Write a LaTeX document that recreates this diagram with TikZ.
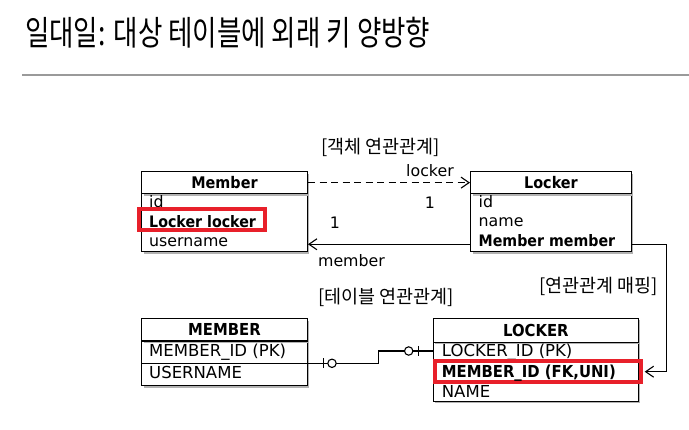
\documentclass[tikz,border=0pt]{standalone}
\usepackage{fontspec}
\setmainfont{DejaVu Sans}
\newfontfamily\bc[FakeStretch=0.9]{DejaVu Sans}
\newfontfamily\kr{Noto Sans CJK KR}
\usetikzlibrary{arrows.meta,calc}
\definecolor{hl}{HTML}{E8202A}
\definecolor{rulegray}{HTML}{9A9A9A}
\begin{document}
\begin{tikzpicture}[x=1pt,y=-1pt,
  box/.style={draw=black, line width=1.3pt, fill=white, inner sep=0pt, anchor=north west,
    preaction={fill=black!30, transform canvas={shift={(2pt,-2pt)}}}},
  hdr/.style={font=\fontsize{16}{19}\selectfont\bc\bfseries},
  erhdr/.style={font=\fontsize{16.5}{19}\selectfont\bc\bfseries},
  fld/.style={font=\fontsize{15.8}{19}\selectfont, inner sep=0pt, anchor=base west},
  erfld/.style={font=\fontsize{16.5}{19}\selectfont, inner sep=0pt, anchor=base west},
  lbl/.style={font=\fontsize{15.8}{19}\selectfont, inner sep=0pt, anchor=base},
  krl/.style={font=\kr\fontsize{18.5}{21}\selectfont, inner sep=0pt},
  hlbox/.style={draw=hl, line width=4pt, inner sep=0pt, anchor=center},
  conn/.style={line width=1.1pt},
  tip/.style={-{Straight Barb[length=8pt,width=11pt]}}
]
\useasboundingbox (0,0) rectangle (689,430);

% title
\node[anchor=west, inner sep=0pt, font=\kr\fontsize{34}{38}\selectfont] (title) at (25,33)
  {\scalebox{0.78}[1]{일대일: 대상 테이블에 외래 키 양방향}};
\draw[rulegray, line width=1.2pt] (22,75) -- (689,75);

% ---------- object model ----------
\node[box, minimum width=165.7pt, minimum height=58pt] (memb) at (141,193) {};
\node[box, hdr, minimum width=165.7pt, minimum height=22pt] (memh) at (141,171) {Member};
\node[fld] (mid) at (149,208) {id};
\node[hlbox, minimum width=126pt, minimum height=20.5pt] (hl1) at (202.3,219.5) {};
\node[fld] (mll) at (149,227.5) {\bc\bfseries Locker locker};
\node[fld] (mun) at (149,247) {username};

\node[box, minimum width=160.7pt, minimum height=58pt] (lockb) at (470,193) {};
\node[box, hdr, minimum width=160.7pt, minimum height=22pt] (lockh) at (470,171) {Locker};
\node[fld] (lid) at (478.5,208) {id};
\node[fld] (lname) at (478.5,227) {name};
\node[fld] (lmm) at (478.5,247) {\bc\bfseries Member member};

\node[krl] (lab1) at (380.5,147.5) {[객체 연관관계]};
\draw[conn, tip, dash pattern=on 7pt off 4.5pt] (memh.east) -- (lockh.west);
\node[lbl] (locklbl) at (430,177) {locker};
\node[lbl] (one1) at (430,209) {1};
\draw[conn, tip] (lockb.west |- lmm.mid) -- (memb.east |- lmm.mid);
\node[lbl] (one2) at (335,229) {1};
\node[lbl] (memlbl) at (351.5,267) {member};

% ---------- table model ----------
\node[krl] (lab2) at (386,297.5) {[테이블 연관관계]};
\node[krl] (lab3) at (598.5,286) {[연관관계 매핑]};

\node[box, minimum width=165.7pt, minimum height=22.4pt] (mr1) at (141,340.3) {};
\node[box, minimum width=165.7pt, minimum height=22.3pt] (mr2) at (141,362.7) {};
\node[box, erhdr, minimum width=165.7pt, minimum height=22.3pt] (mh) at (141,318) {MEMBER};
\node[erfld] (mpk) at (149,357) {MEMBER\_ID (PK)};
\node[erfld] (mus) at (149,379) {USERNAME};

\node[box, minimum width=205pt, minimum height=59pt] (lb) at (432.7,341.7) {};
\node[box, erhdr, minimum width=205pt, minimum height=24pt] (lh) at (432.7,317.7) {LOCKER};
\node[erfld] (lpk) at (441.7,357) {LOCKER\_ID (PK)};
\node[hlbox, minimum width=206pt, minimum height=21.3pt] (hl2) at (537.7,371.7) {};
\node[erfld] (lfk) at (441.7,378) {\bc\bfseries MEMBER\_ID (FK,UNI)};
\node[erfld] (lnm) at (441.7,398) {NAME};

% mapping connector
\coordinate (bend) at (666.7,300);
\draw[conn, tip, shorten >=2pt] (lockb.east |- lmm.mid) -- (bend |- lmm.mid) -- (bend |- hl2.center) -- (hl2.east);

% ER relation
\coordinate (j1) at (378.3,363.3);
\coordinate (j2) at (378.3,351);
\draw[conn] (mr2.east |- j1) -- (j1) -- (j2) -- (lb.west |- j2);
\draw[conn] ($(mr2.east |- j1)+(15.6,-5)$) -- ++(0,10);
\draw[conn, fill=white] ($(mr2.east |- j1)+(24,0)$) circle[radius=4.2pt];
\draw[conn] ($(lb.west |- j2)+(-14.4,-5)$) -- ++(0,10);
\draw[conn, fill=white] ($(lb.west |- j2)+(-24,0)$) circle[radius=4.2pt];
\end{tikzpicture}
\end{document}
